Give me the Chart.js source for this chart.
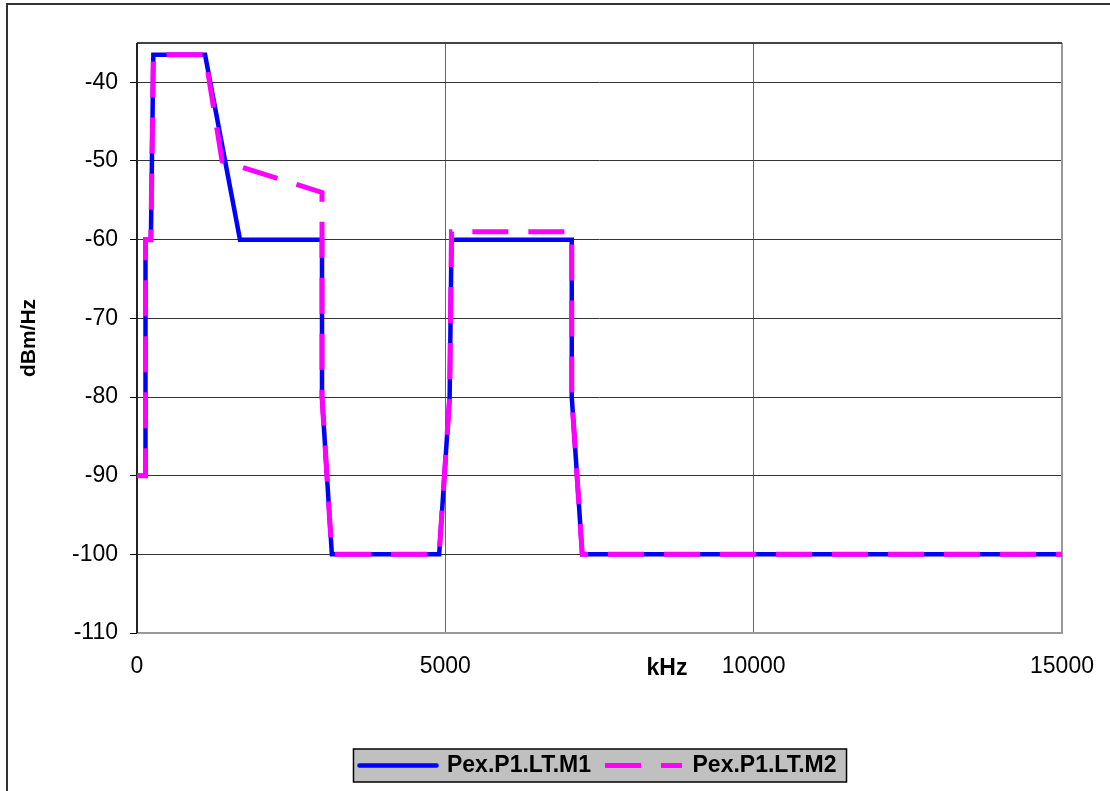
<!DOCTYPE html>
<html>
<head>
<meta charset="utf-8">
<title>PSD masks</title>
<script src="https://cdn.jsdelivr.net/npm/chart.js@4/dist/chart.umd.min.js"></script>
<style>
  body { margin: 0; background: #fff; overflow: hidden; }
  #wrap { position: relative; width: 1110px; height: 791px; }
  #frame {
    position: absolute; left: 6px; top: 3px; width: 1200px; height: 900px;
    border-left: 2px solid #333; border-top: 2px solid #333;
    pointer-events: none;
  }
  #chart { position: absolute; left: 0; top: 0; }
</style>
</head>
<body>
<div id="wrap">
  <div id="frame"></div>
  <canvas id="chart" width="1110" height="791"></canvas>
</div>
<script>
// frequency (kHz) / level (dBm/Hz) breakpoints
const freqM1 = [0, 138, 138, 225, 265, 1104, 1670, 3000, 3000, 3160, 4900, 5070, 5100, 7050, 7050, 7220, 15000];
const psdM1 = [-90, -90, -60, -60, -36.5, -36.5, -60, -60, -80, -100, -100, -80, -60, -60, -80, -100, -100];

const freqM2 = [0, 138, 138, 225, 265, 1104, 1380, 3000, 3000, 3160, 4900, 5070, 5100, 7050, 7050, 7220, 15000];
const psdM2 = [-90, -90, -60, -60, -36.5, -36.5, -50, -54, -80, -100, -100, -80, -59, -59, -80, -100, -100];

const seriesNames = ["Pex.P1.LT.M1", "Pex.P1.LT.M2"];
const xTicks = [0, 5000, 10000, 15000];
const yTicks = [-110, -100, -90, -80, -70, -60, -50, -40];

const FONT = "'Liberation Sans', Arial, sans-serif";
const SAMPLE_LEN = 77;

function toPoints(xs, ys) {
  return xs.map((x, i) => ({ x: x, y: ys[i] }));
}

// plot area border, legend background box + line samples, and the "kHz" label
const decorations = {
  id: "decorations",
  beforeDraw(chart) {
    const boxes = chart.legend.legendHitBoxes;
    if (!boxes || !boxes.length) return;
    const first = boxes[0];
    const last = boxes[boxes.length - 1];
    const ctx = chart.ctx;
    const left = first.left - 9;
    const right = last.left + last.width + 10;
    const top = first.top - 5;
    const bottom = first.top + first.height + 5;
    ctx.save();
    ctx.fillStyle = "#c0c0c0";
    ctx.fillRect(left, top, right - left, bottom - top);
    ctx.strokeStyle = "#000";
    ctx.lineWidth = 1.5;
    ctx.strokeRect(left, top, right - left, bottom - top);
    ctx.restore();
  },
  beforeDatasetsDraw(chart) {
    const { ctx, chartArea } = chart;
    const { left, right, top, bottom } = chartArea;
    ctx.save();
    ctx.lineWidth = 2;
    ctx.strokeStyle = "#999";
    ctx.beginPath();
    ctx.moveTo(right, top);
    ctx.lineTo(right, bottom);
    ctx.lineTo(left, bottom);
    ctx.stroke();
    ctx.strokeStyle = "#444";
    ctx.beginPath();
    ctx.moveTo(right, top);
    ctx.lineTo(left, top);
    ctx.stroke();
    ctx.strokeStyle = "#222";
    ctx.beginPath();
    ctx.moveTo(left, top);
    ctx.lineTo(left, bottom);
    ctx.stroke();
    ctx.restore();
  },
  afterDraw(chart) {
    const { ctx, chartArea } = chart;
    ctx.save();

    // legend line samples, styled like their datasets
    const boxes = chart.legend.legendHitBoxes || [];
    chart.legend.legendItems.forEach((item, i) => {
      const box = boxes[i];
      if (!box) return;
      const ds = chart.data.datasets[item.datasetIndex];
      const y = box.top + box.height / 2;
      ctx.strokeStyle = ds.borderColor;
      ctx.lineWidth = ds.borderWidth;
      ctx.lineCap = ds.borderDash ? "butt" : "round";
      ctx.setLineDash(ds.borderDash || []);
      ctx.beginPath();
      ctx.moveTo(box.left - 3, y);
      ctx.lineTo(box.left - 3 + SAMPLE_LEN, y);
      ctx.stroke();
    });
    ctx.setLineDash([]);

    ctx.font = "bold 23px " + FONT;
    ctx.fillStyle = "#000";
    ctx.textAlign = "center";
    ctx.textBaseline = "middle";
    const x = chartArea.left + (chartArea.right - chartArea.left) * 0.573;
    ctx.fillText("kHz", x, chartArea.bottom + 36);
    ctx.restore();
  },
};

const ctx = document.getElementById("chart");

new Chart(ctx, {
  type: "line",
  data: {
    datasets: [
      {
        label: seriesNames[0],
        data: toPoints(freqM1, psdM1),
        borderColor: "#0000ff",
        backgroundColor: "#0000ff",
        borderWidth: 4.5,
        pointRadius: 0,
        tension: 0,
        fill: false,
      },
      {
        label: seriesNames[1],
        data: toPoints(freqM2, psdM2),
        borderColor: "#ff00ff",
        backgroundColor: "#ff00ff",
        borderWidth: 5,
        borderDash: [36, 20],
        pointRadius: 0,
        tension: 0,
        fill: false,
        order: -1,
      },
    ],
  },
  options: {
    responsive: false,
    animation: false,
    layout: { padding: { top: 43, right: 48, bottom: 4, left: 0 } },
    plugins: {
      tooltip: { enabled: false },
      legend: {
        position: "bottom",
        fullSize: false,
        labels: {
          usePointStyle: true,
          pointStyle: "line",
          pointStyleWidth: 73,
          padding: 17,
          color: "#000",
          font: { family: FONT, size: 23, weight: "bold" },
          sort: (a, b) => a.datasetIndex - b.datasetIndex,
          generateLabels: (chart) => {
            const items = Chart.defaults.plugins.legend.labels.generateLabels(chart);
            items.forEach((it) => {
              it.strokeStyle = "rgba(0,0,0,0)";
              it.fillStyle = "rgba(0,0,0,0)";
              it.lineWidth = 0;
            });
            return items;
          },
        },
      },
    },
    scales: {
      x: {
        type: "linear",
        min: 0,
        max: 15000,
        afterBuildTicks: (scale) => {
          scale.ticks = xTicks.map((v) => ({ value: v }));
        },
        afterFit: (scale) => {
          scale.height = 104;
          scale.paddingLeft = 0;
          scale.paddingRight = 0;
        },
        grid: { color: "#666", lineWidth: 1, drawTicks: false },
        border: { display: false },
        ticks: {
          padding: 20,
          color: "#000",
          maxRotation: 0,
          font: { family: FONT, size: 23 },
          callback: (v) => String(v),
        },
      },
      y: {
        min: -110,
        max: -35,
        afterBuildTicks: (scale) => {
          scale.ticks = yTicks.map((v) => ({ value: v }));
        },
        afterFit: (scale) => {
          scale.width = 137;
        },
        grid: { color: "#333", lineWidth: 1, tickLength: 7, tickColor: "#000" },
        border: { display: false },
        ticks: {
          padding: 12,
          color: "#000",
          font: { family: FONT, size: 23 },
          callback: (v) => String(v),
        },
        title: {
          display: true,
          text: "dBm/Hz",
          color: "#000",
          font: { family: FONT, size: 21, weight: "bold" },
          padding: { top: 17, bottom: 0 },
        },
      },
    },
  },
  plugins: [decorations],
});
</script>
</body>
</html>
